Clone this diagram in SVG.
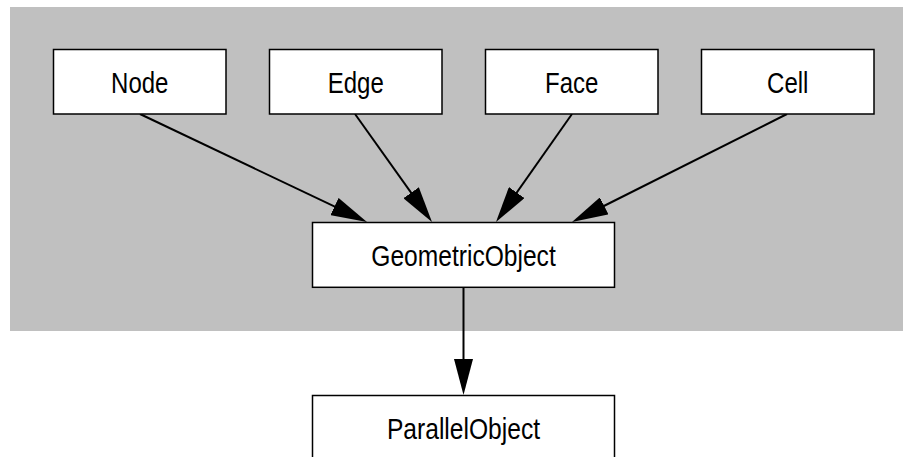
<svg xmlns="http://www.w3.org/2000/svg" width="903" height="457" viewBox="0 0 903 457">
<style>
.box{fill:#ffffff;stroke:#000000;stroke-width:1.5}
.lbl{font-family:"Liberation Sans",Arial,sans-serif;font-size:30px;fill:#000000;text-anchor:middle}
.edge{stroke:#000000;stroke-width:2;fill:none}
</style>
<defs>
<marker id="arr" markerUnits="userSpaceOnUse" markerWidth="36" markerHeight="19" refX="26" refY="9.5" orient="auto">
<path d="M0,0 L36,9.5 L0,19 Z" fill="#000000"/>
</marker>
</defs>
<rect x="0" y="0" width="903" height="457" fill="#ffffff"/>
<rect x="10" y="7" width="893" height="324" fill="#c0c0c0"/>
<g id="connectors">
<line class="edge" x1="140" y1="114" x2="357.97" y2="217.7" marker-end="url(#arr)"/>
<line class="edge" x1="355" y1="114" x2="426.19" y2="213.85" marker-end="url(#arr)"/>
<line class="edge" x1="572" y1="114" x2="501.75" y2="213.82" marker-end="url(#arr)"/>
<line class="edge" x1="787" y1="114" x2="580.94" y2="217.51" marker-end="url(#arr)"/>
<line class="edge" x1="463.5" y1="287.3" x2="463.5" y2="385" marker-end="url(#arr)"/>
</g>
<g id="node-Node">
<rect class="box" x="53.5" y="49.5" width="172.5" height="64.5"/>
<text class="lbl" transform="translate(139.75,93) scale(0.8,1)">Node</text>
</g>
<g id="node-Edge">
<rect class="box" x="269.5" y="49.5" width="172.5" height="64.5"/>
<text class="lbl" transform="translate(355.75,93) scale(0.8,1)">Edge</text>
</g>
<g id="node-Face">
<rect class="box" x="485.5" y="49.5" width="172.5" height="64.5"/>
<text class="lbl" transform="translate(571.75,93) scale(0.8,1)">Face</text>
</g>
<g id="node-Cell">
<rect class="box" x="701.5" y="49.5" width="172.5" height="64.5"/>
<text class="lbl" transform="translate(787.75,93) scale(0.8,1)">Cell</text>
</g>
<g id="node-GeometricObject">
<rect class="box" x="312.5" y="222.5" width="302" height="64.8"/>
<text class="lbl" transform="translate(463.5,266) scale(0.82,1)">GeometricObject</text>
</g>
<g id="node-ParallelObject">
<rect class="box" x="312.5" y="395.5" width="302" height="64.8"/>
<text class="lbl" transform="translate(463.5,439.3) scale(0.82,1)">ParallelObject</text>
</g>
</svg>
